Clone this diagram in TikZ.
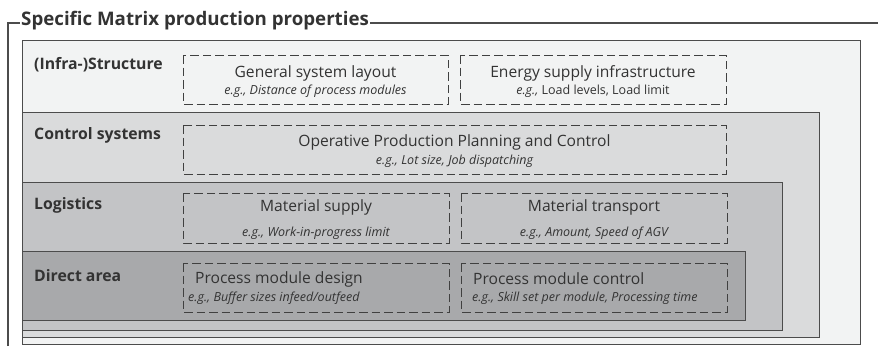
\documentclass[tikz,border=0pt]{standalone}
\usepackage{fontspec}
\setmainfont{Open Sans}
\definecolor{infra}{HTML}{F2F3F3}
\definecolor{ctrl}{HTML}{DADBDC}
\definecolor{logi}{HTML}{C3C4C6}
\definecolor{direct}{HTML}{A8A9AB}
\definecolor{ink}{HTML}{333333}
\begin{document}
\begin{tikzpicture}[x=1pt,y=-1pt]
  \tikzstyle{frame}=[draw=black!70,line width=1.6pt]
  \tikzstyle{layer}=[draw=black!70,line width=1pt]
  \tikzstyle{group}=[draw=black!75,dash pattern=on 8.5pt off 4pt,line width=1pt]
  \tikzstyle{head}=[font=\bfseries\fontsize{15.8}{18}\selectfont,text=ink,anchor=west,inner sep=0pt]
  \tikzstyle{item}=[font=\fontsize{15.6}{18}\selectfont,text=ink,inner sep=0pt]
  \tikzstyle{hint}=[font=\itshape\fontsize{12.5}{14}\selectfont,text=ink,inner sep=0pt]
  \useasboundingbox (0,0) rectangle (878,346);

  % title with its open frame
  \node [font=\bfseries\fontsize{18.7}{22}\selectfont,text=ink,anchor=base west,inner sep=1pt] (title) at (20,25) {Specific Matrix production properties};
  \draw[frame] (8,346) |- (title.west |- 0,23);
  \draw[frame] (title.east |- 0,23) -- (878,23);

  % layers, outermost first
  \path[layer,fill=infra] (22,40) rectangle (860,344);
  \path[layer,fill=ctrl] (22,112) rectangle (819,337);
  \path[layer,fill=logi] (22,182) rectangle (782,330);
  \path[layer,fill=direct] (22,251) rectangle (745,320);

  \node [head] (infrahead) at (34,64.5) {(Infra-)Structure};
  \node [head] (ctrlhead) at (34,135.5) {Control systems};
  \node [head] (logihead) at (34,205.5) {Logistics};
  \node [head] (directhead) at (34,275.5) {Direct area};

  % (Infra-)Structure
  \path[group] (183,55) rectangle (448,104);
  \path[group] (460,55) rectangle (726,104);
  \node [item] (layout) at (315.5,73) {General system layout};
  \node [hint] (layoutex) at (315.5,91) {e.g., Distance of process modules};
  \node [item] (energy) at (593,73) {Energy supply infrastructure};
  \node [hint] (energyex) at (593,91) {e.g.,\upshape{} Load levels, Load limit};

  % Control systems
  \path[group] (183,125) rectangle (726,174);
  \node [item] (oppc) at (454.5,142) {Operative Production Planning and Control};
  \node [hint] (oppcex) at (454.5,161) {e.g., Lot size, Job dispatching};

  % Logistics
  \path[group] (183,193) rectangle (449,243);
  \path[group] (461,193) rectangle (727,243);
  \node [item] (supply) at (316,207) {Material supply};
  \node [hint] (supplyex) at (316,233) {e.g., Work-in-progress limit};
  \node [item] (transport) at (594,207) {Material transport};
  \node [hint] (transportex) at (594,233) {e.g., Amount, Speed of AGV};

  % Direct area
  \path[group] (183,263) rectangle (449,312);
  \path[group] (461,263) rectangle (727,312);
  \node [item,anchor=west] (design) at (195,279) {Process module design};
  \node [hint,anchor=west] (designex) at (188,298) {e.g., Buffer sizes infeed/outfeed};
  \node [item,anchor=west] (control) at (473,279) {Process module control};
  \node [hint,anchor=west] (controlex) at (472,298) {e.g., Skill set per module, Processing time};
\end{tikzpicture}
\end{document}
